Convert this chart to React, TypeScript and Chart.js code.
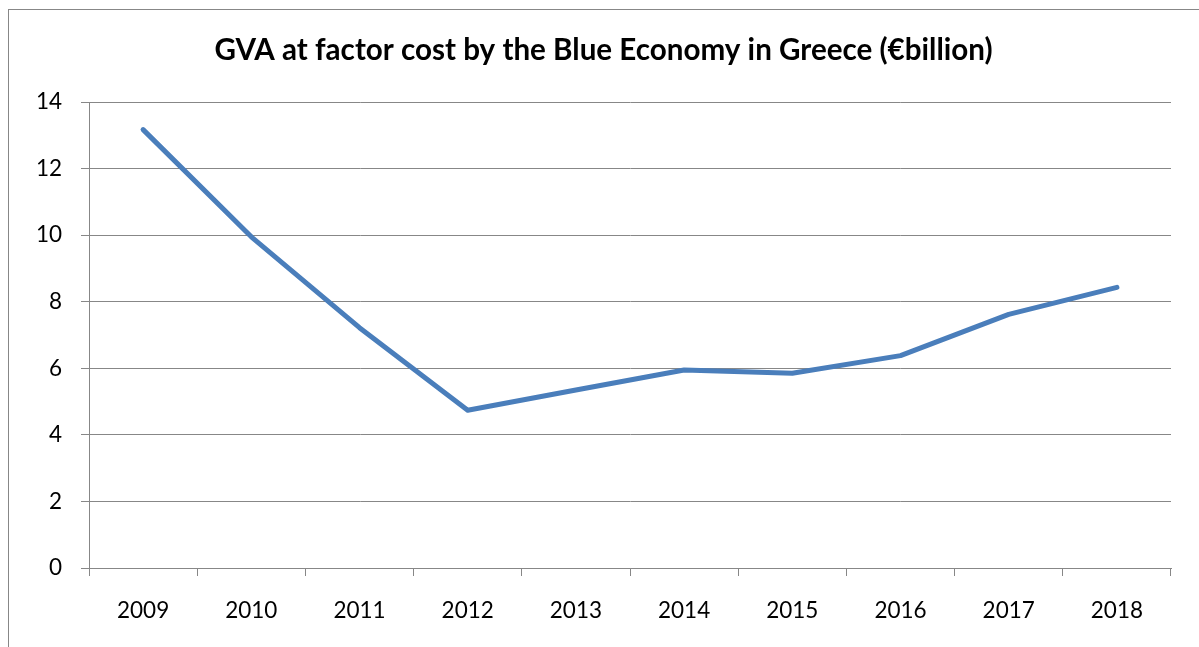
import React, { useEffect, useRef } from "react";
import { Chart, registerables } from "chart.js";

Chart.register(...registerables);

const TITLE = "GVA at factor cost by the Blue Economy in Greece (€billion)";
const YEARS = ["2009", "2010", "2011", "2012", "2013", "2014", "2015", "2016", "2017", "2018"];
const GVA = [13.17, 9.95, 7.22, 4.74, 5.35, 5.95, 5.85, 6.38, 7.62, 8.43];
const Y_MIN = 0;
const Y_MAX = 14;
const Y_STEP = 2;

const FONT = "Lato, 'Open Sans', sans-serif";
const GRID = "#878787";
const LINE = "#4a7ebb";

const titlePlugin = {
  id: "excelTitle",
  afterDraw(chart: any) {
    const ctx = chart.ctx;
    ctx.save();
    ctx.font = `bold 29.6px ${FONT}`;
    ctx.fillStyle = "#000000";
    ctx.textAlign = "center";
    ctx.textBaseline = "alphabetic";
    ctx.fillText(TITLE, chart.width / 2, 51);
    ctx.restore();
  },
};

export default function App() {
  const ref = useRef<HTMLCanvasElement | null>(null);

  useEffect(() => {
    if (!ref.current) return;
    const chart = new Chart(ref.current, {
      type: "line",
      data: {
        labels: YEARS,
        datasets: [
          {
            label: "GVA",
            data: GVA,
            borderColor: LINE,
            backgroundColor: LINE,
            borderWidth: 5,
            pointRadius: 0,
            pointHoverRadius: 0,
            tension: 0,
            borderCapStyle: "round",
            borderJoinStyle: "round",
          },
        ],
      },
      options: {
        responsive: false,
        animation: false,
        events: [],
        layout: { padding: { left: 0, right: 28, top: 93, bottom: 0 } },
        plugins: {
          legend: { display: false },
          title: { display: false },
          tooltip: { enabled: false },
        },
        scales: {
          x: {
            offset: true,
            grid: {
              offset: true,
              drawOnChartArea: false,
              drawTicks: true,
              tickLength: 8,
              color: GRID,
              lineWidth: 1,
            },
            border: { display: true, color: GRID, width: 1 },
            ticks: {
              color: "#000000",
              font: { family: FONT, size: 22.5, lineHeight: 1.2 },
              padding: 21,
              maxRotation: 0,
              autoSkip: false,
            },
            afterFit(scale: any) {
              scale.height = 79;
            },
          },
          y: {
            min: Y_MIN,
            max: Y_MAX,
            grid: {
              drawTicks: true,
              tickLength: 8,
              color: GRID,
              lineWidth: 1,
            },
            border: { display: true, color: GRID, width: 1 },
            ticks: {
              stepSize: Y_STEP,
              color: "#000000",
              font: { family: FONT, size: 22.5, lineHeight: 1.2 },
              padding: 19,
            },
            afterFit(scale: any) {
              scale.width = 81;
            },
          },
        },
      },
      plugins: [titlePlugin],
    });
    return () => chart.destroy();
  }, []);

  return (
    <div
      style={{
        position: "fixed",
        left: 0,
        top: 0,
        width: 1199,
        height: 647,
        overflow: "hidden",
        background: "#ffffff",
      }}
    >
      <div
        style={{
          position: "absolute",
          left: 8,
          top: 9,
          width: 1300,
          height: 800,
          border: `1px solid ${GRID}`,
          boxSizing: "border-box",
        }}
      />
      <canvas
        ref={ref}
        width={1191}
        height={638}
        style={{ position: "absolute", left: 8, top: 9, width: 1191, height: 638 }}
      />
    </div>
  );
}
